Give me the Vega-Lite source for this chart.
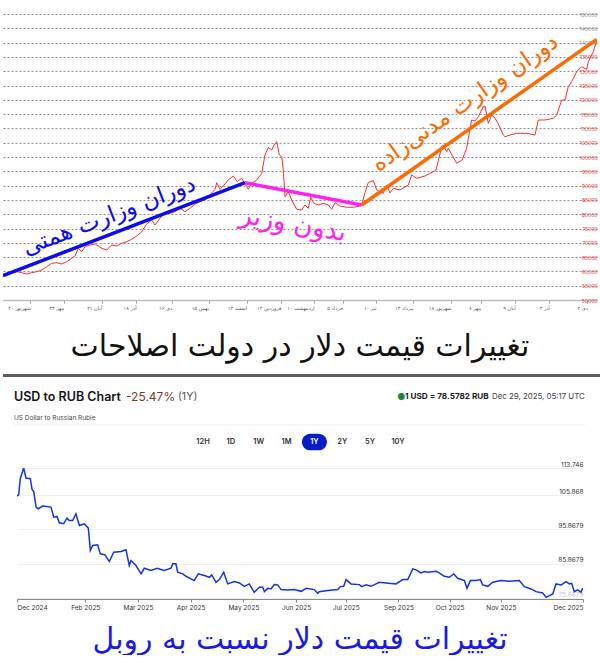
{
  "$schema": "https://vega.github.io/schema/vega-lite/v6.json",
  "background": "white",
  "padding": {"left": 3, "top": 12, "right": 0, "bottom": 0},
  "spacing": 0,
  "resolve": {"scale": {"color": "independent", "size": "independent"}},
  "config": {
    "view": {"stroke": null},
    "axis": {"labelFont": "Inter"},
    "text": {"font": "Inter"}
  },
  "datasets": {
    "dollar": [
      {"day": 0.3, "price": 58500}, {"day": 5.9, "price": 59550}, {"day": 11.5, "price": 59900}, {"day": 15.7, "price": 59550},
      {"day": 19.9, "price": 59090}, {"day": 24.2, "price": 59550}, {"day": 28.4, "price": 59900}, {"day": 32.6, "price": 60490},
      {"day": 36.8, "price": 61650}, {"day": 41, "price": 62830}, {"day": 45.2, "price": 63040}, {"day": 49.4, "price": 62590},
      {"day": 53.6, "price": 63390}, {"day": 57.8, "price": 64580}, {"day": 60.6, "price": 65390}, {"day": 63.4, "price": 68080},
      {"day": 66.2, "price": 66890}, {"day": 69, "price": 68640}, {"day": 73.2, "price": 69230}, {"day": 77.4, "price": 69580},
      {"day": 80.2, "price": 68880}, {"day": 83.1, "price": 68080}, {"day": 87.3, "price": 67480}, {"day": 91.5, "price": 69230},
      {"day": 95.7, "price": 68880}, {"day": 99.9, "price": 69830}, {"day": 104.1, "price": 70390}, {"day": 108.3, "price": 71230},
      {"day": 112.5, "price": 72380}, {"day": 116.8, "price": 73880}, {"day": 121, "price": 76580}, {"day": 125.2, "price": 77970},
      {"day": 127.9, "price": 76230}, {"day": 132.2, "price": 78570}, {"day": 136.4, "price": 80880}, {"day": 140.6, "price": 80320},
      {"day": 144.8, "price": 80880}, {"day": 149, "price": 82070}, {"day": 153.2, "price": 80880}, {"day": 157.4, "price": 82070},
      {"day": 161.6, "price": 83570}, {"day": 165.8, "price": 84370}, {"day": 170, "price": 84970}, {"day": 174.2, "price": 86720},
      {"day": 178.5, "price": 88710}, {"day": 179.9, "price": 91020}, {"day": 182.7, "price": 88710}, {"day": 185.4, "price": 89860},
      {"day": 189.6, "price": 91960}, {"day": 193.9, "price": 93360}, {"day": 197.2, "price": 91370}, {"day": 200.9, "price": 92560},
      {"day": 205.1, "price": 89690}, {"day": 206.5, "price": 88710}, {"day": 209.3, "price": 90810}, {"day": 213.6, "price": 91960},
      {"day": 217.8, "price": 94300}, {"day": 220.5, "price": 100700}, {"day": 223.3, "price": 103320}, {"day": 226.2, "price": 102450},
      {"day": 228.1, "price": 104200}, {"day": 230.4, "price": 105350}, {"day": 232.6, "price": 100700}, {"day": 234.6, "price": 100110},
      {"day": 235.9, "price": 95460}, {"day": 237.4, "price": 86120}, {"day": 240.2, "price": 87870}, {"day": 243, "price": 84970},
      {"day": 247.2, "price": 81720}, {"day": 251.4, "price": 81470}, {"day": 254.2, "price": 83220}, {"day": 257, "price": 82070},
      {"day": 259, "price": 85910}, {"day": 261.8, "price": 83810}, {"day": 265.4, "price": 83220}, {"day": 269.6, "price": 83810},
      {"day": 273.8, "price": 83220}, {"day": 276.7, "price": 81720}, {"day": 279.5, "price": 84020}, {"day": 283.7, "price": 82870},
      {"day": 289.3, "price": 82420}, {"day": 294.9, "price": 82420}, {"day": 300.5, "price": 82870}, {"day": 301.9, "price": 83220},
      {"day": 304.7, "price": 87520}, {"day": 307.5, "price": 91090}, {"day": 311.7, "price": 91720}, {"day": 314.6, "price": 88460},
      {"day": 317.3, "price": 87870}, {"day": 320.1, "price": 87310}, {"day": 323, "price": 90210}, {"day": 325.8, "price": 87420},
      {"day": 328.5, "price": 89060}, {"day": 334.2, "price": 88460}, {"day": 341.2, "price": 90210}, {"day": 344, "price": 93710},
      {"day": 348.2, "price": 92560}, {"day": 355.2, "price": 93360}, {"day": 359.4, "price": 94300}, {"day": 362.2, "price": 94860},
      {"day": 364.5, "price": 95460}, {"day": 369.3, "price": 103600}, {"day": 370.6, "price": 104200}, {"day": 373.5, "price": 101860},
      {"day": 374.8, "price": 103040}, {"day": 381.9, "price": 97800}, {"day": 386.4, "price": 98950}, {"day": 390.3, "price": 103040},
      {"day": 391.7, "price": 106540}, {"day": 394.5, "price": 112940}, {"day": 397.3, "price": 112590}, {"day": 400.1, "price": 114090},
      {"day": 404.3, "price": 117590}, {"day": 405.7, "price": 117840}, {"day": 408.5, "price": 111790}, {"day": 411.4, "price": 114690},
      {"day": 414.1, "price": 113640}, {"day": 416.9, "price": 111540}, {"day": 421.1, "price": 107690}, {"day": 422.6, "price": 107100},
      {"day": 426.8, "price": 107690}, {"day": 432.4, "price": 108290}, {"day": 435.2, "price": 108290}, {"day": 440.8, "price": 108290},
      {"day": 447.8, "price": 107690}, {"day": 450.6, "price": 112940}, {"day": 456.2, "price": 112940}, {"day": 463.2, "price": 113540},
      {"day": 466.1, "price": 114690}, {"day": 470.3, "price": 119930}, {"day": 473.1, "price": 119930}, {"day": 475.8, "price": 124580},
      {"day": 478.7, "price": 126330}, {"day": 482.9, "price": 129830}, {"day": 487.1, "price": 131580}, {"day": 491.3, "price": 130670},
      {"day": 492.7, "price": 133320}, {"day": 495.5, "price": 135670}, {"day": 496.9, "price": 136820}, {"day": 499.7, "price": 140910}
    ],
    "trends": [
      {"period": "hemmati", "day": 0, "price": 58500},
      {"period": "hemmati", "day": 203.7, "price": 91015},
      {"period": "vacant", "day": 203.7, "price": 91015},
      {"period": "vacant", "day": 301.9, "price": 83215},
      {"period": "madanizadeh", "day": 301.9, "price": 83215},
      {"period": "madanizadeh", "day": 499.7, "price": 141150}
    ],
    "notes": [
      {"period": "hemmati", "label": "دوران وزارت همتی", "day": 89.2, "price": 79370},
      {"period": "vacant", "label": "بدون وزیر", "day": 244.1, "price": 76570},
      {"period": "madanizadeh", "label": "دوران وزارت مدنی\u200cزاده", "day": 388.9, "price": 118880}
    ],
    "header": [
      {"part": "separator", "row": 0},
      {"part": "name", "text": "USD to RUB Chart", "row": 1, "slot": 0},
      {"part": "change", "text": "-25.47%", "row": 1, "slot": 1},
      {"part": "span", "text": "(1Y)", "row": 1, "slot": 2},
      {"part": "dot", "text": "●", "row": 1, "slot": 3},
      {"part": "quote", "text": "1 USD = 78.5782 RUB", "row": 1, "slot": 4},
      {"part": "time", "text": "Dec 29, 2025, 05:17 UTC", "row": 1, "slot": 5},
      {"part": "subtitle", "text": "US Dollar to Russian Ruble", "row": 2, "slot": 0},
      {"part": "divider", "row": 3, "slot": 0}
    ],
    "periods": [
      {"period": "12H", "selected": false}, {"period": "1D", "selected": false},
      {"period": "1W", "selected": false}, {"period": "1M", "selected": false},
      {"period": "1Y", "selected": true}, {"period": "2Y", "selected": false},
      {"period": "5Y", "selected": false}, {"period": "10Y", "selected": false}
    ],
    "rub": [
      {"day": 0, "rate": 105.58}, {"day": 1.1, "rate": 105.98}, {"day": 2.1, "rate": 110.65}, {"day": 4.3, "rate": 113.74},
      {"day": 5.8, "rate": 110.83}, {"day": 8.6, "rate": 110.65}, {"day": 9.7, "rate": 107.53}, {"day": 10.8, "rate": 106.94},
      {"day": 12.3, "rate": 102.37}, {"day": 13.7, "rate": 101.9}, {"day": 15.5, "rate": 102.37}, {"day": 16.6, "rate": 102.66},
      {"day": 21.9, "rate": 102.37}, {"day": 23.7, "rate": 99.46}, {"day": 25.8, "rate": 99.66}, {"day": 27.3, "rate": 97.82},
      {"day": 30.1, "rate": 97.53}, {"day": 32.2, "rate": 99.17}, {"day": 33.7, "rate": 98.49}, {"day": 35.9, "rate": 98.49},
      {"day": 38, "rate": 100.45}, {"day": 40.2, "rate": 97.04}, {"day": 43.4, "rate": 97.53}, {"day": 46, "rate": 96.25},
      {"day": 47.3, "rate": 89.75}, {"day": 48.8, "rate": 91.21}, {"day": 52, "rate": 91.41}, {"day": 53.7, "rate": 88.78},
      {"day": 56.8, "rate": 88.49}, {"day": 59.5, "rate": 86.54}, {"day": 62.4, "rate": 89.25}, {"day": 67.1, "rate": 89.45},
      {"day": 70.3, "rate": 89.95}, {"day": 72.4, "rate": 85.37}, {"day": 73.5, "rate": 86.83}, {"day": 76.7, "rate": 85.37},
      {"day": 80, "rate": 82.95}, {"day": 82.1, "rate": 84.59}, {"day": 86.4, "rate": 83.92}, {"day": 90.3, "rate": 84.59},
      {"day": 92.9, "rate": 84.21}, {"day": 95, "rate": 83.92}, {"day": 99.3, "rate": 84.59}, {"day": 100.4, "rate": 85.87},
      {"day": 102.5, "rate": 85.87}, {"day": 103.6, "rate": 83.42}, {"day": 106.9, "rate": 82.95}, {"day": 109, "rate": 82.26},
      {"day": 112.2, "rate": 81.5}, {"day": 114.3, "rate": 81}, {"day": 116.9, "rate": 82.95}, {"day": 120.8, "rate": 82.46},
      {"day": 124, "rate": 81.96}, {"day": 125.6, "rate": 82.66}, {"day": 128.3, "rate": 80.51}, {"day": 130.5, "rate": 81.29},
      {"day": 133.3, "rate": 83.42}, {"day": 135.9, "rate": 80.04}, {"day": 140.1, "rate": 80.71}, {"day": 143.4, "rate": 80.33},
      {"day": 146.6, "rate": 79.34}, {"day": 149.8, "rate": 80.04}, {"day": 153, "rate": 77.59}, {"day": 156.3, "rate": 79.05},
      {"day": 158.5, "rate": 79.05}, {"day": 159.5, "rate": 77.79}, {"day": 161.7, "rate": 78.75}, {"day": 163.8, "rate": 78.58},
      {"day": 165.9, "rate": 79.83}, {"day": 168.1, "rate": 79.75}, {"day": 170.3, "rate": 78.38}, {"day": 174.6, "rate": 78.29},
      {"day": 178.8, "rate": 78.38}, {"day": 183.2, "rate": 77.88}, {"day": 186.4, "rate": 78.75}, {"day": 191.7, "rate": 78.38},
      {"day": 193.9, "rate": 77.3}, {"day": 194.9, "rate": 77.79}, {"day": 200.4, "rate": 78.09}, {"day": 206.8, "rate": 78.38},
      {"day": 208.5, "rate": 79.25}, {"day": 210.7, "rate": 79.34}, {"day": 212.2, "rate": 81.29}, {"day": 215.4, "rate": 80.04},
      {"day": 220.8, "rate": 79.83}, {"day": 222.3, "rate": 79.25}, {"day": 225.1, "rate": 79.75}, {"day": 228.3, "rate": 79.34},
      {"day": 233.6, "rate": 80.51}, {"day": 238, "rate": 80.33}, {"day": 244.4, "rate": 80.04}, {"day": 248.7, "rate": 81.29},
      {"day": 252, "rate": 81.29}, {"day": 255.2, "rate": 84.41}, {"day": 257.3, "rate": 84.12}, {"day": 260.5, "rate": 83.24},
      {"day": 262.7, "rate": 83.62}, {"day": 264.9, "rate": 83.42}, {"day": 270.2, "rate": 83.71}, {"day": 272.3, "rate": 83.24},
      {"day": 275.6, "rate": 82.26}, {"day": 278.8, "rate": 81.96}, {"day": 281.6, "rate": 82.95}, {"day": 284.2, "rate": 81.67},
      {"day": 288.5, "rate": 81}, {"day": 290.2, "rate": 78.75}, {"day": 292.3, "rate": 81}, {"day": 296, "rate": 81},
      {"day": 298.8, "rate": 81.29}, {"day": 300.3, "rate": 79.75}, {"day": 303.6, "rate": 79.34}, {"day": 306.8, "rate": 80.51},
      {"day": 312.1, "rate": 81}, {"day": 317.5, "rate": 80.8}, {"day": 323.9, "rate": 81}, {"day": 327.2, "rate": 79.25},
      {"day": 331.5, "rate": 78.58}, {"day": 334.7, "rate": 77.79}, {"day": 339, "rate": 77.42}, {"day": 341.2, "rate": 76.13},
      {"day": 343.3, "rate": 76.63}, {"day": 345.5, "rate": 77.12}, {"day": 347.6, "rate": 80.04}, {"day": 350.9, "rate": 79.75},
      {"day": 354.1, "rate": 80.71}, {"day": 356.2, "rate": 80.04}, {"day": 357.7, "rate": 80.21}, {"day": 359.4, "rate": 77.79},
      {"day": 361.6, "rate": 78.29}, {"day": 363.7, "rate": 77.59}, {"day": 364.8, "rate": 78.87}
    ]
  },
  "vconcat": [
    {
      "width": 594,
      "height": 286,
      "title": {
        "text": "تغییرات قیمت دلار در دولت اصلاحات",
        "orient": "bottom",
        "anchor": "middle",
        "font": "DejaVu Sans",
        "fontSize": 30,
        "fontWeight": "normal",
        "color": "#111111",
        "offset": 22
      },
      "encoding": {
        "x": {
          "field": "day",
          "type": "quantitative",
          "scale": {"domain": [0, 500], "nice": false, "zero": false},
          "axis": {
            "title": null,
            "grid": false,
            "values": [23, 51, 83, 112, 142, 173, 205, 234, 262, 286, 314, 345, 377, 402, 431, 460, 492],
            "labelExpr": "['شهریور ۲۰','مهر ۲۳','آبان ۲۱','آذر ۱۸','دی ۱۶','بهمن ۱۵','اسفند ۱۳','فروردین ۱۲','اردیبهشت ۱۰','خرداد ۵','تیر ۱۰','مرداد ۱۳','شهریور ۱۸','مهر ۸','آبان ۹','آذر ۴','دی ۲'][indexof([23, 51, 83, 112, 142, 173, 205, 234, 262, 286, 314, 345, 377, 402, 431, 460, 492], datum.value)]",
            "labelFont": "DejaVu Sans",
            "labelFontSize": 5,
            "labelColor": "#555555",
            "labelAlign": "right",
            "labelPadding": 2,
            "labelOverlap": false,
            "domainColor": "#bdbdbd",
            "domainWidth": 1.5,
            "tickColor": "#999999",
            "tickSize": 3
          }
        },
        "y": {
          "field": "price",
          "type": "quantitative",
          "scale": {"domain": [50000, 150000], "nice": false, "zero": false},
          "axis": {
            "orient": "right",
            "title": null,
            "values": [50000, 55000, 60000, 65000, 70000, 75000, 80000, 85000, 90000, 95000, 100000, 105000, 110000, 115000, 120000, 125000, 130000, 135000, 140000, 145000, 150000],
            "format": "d",
            "grid": true,
            "gridColor": "#8c8c8c",
            "gridDash": [2, 2],
            "gridWidth": 1,
            "domain": false,
            "ticks": false,
            "tickSize": 0,
            "labelPadding": 0,
            "labelAlign": "right",
            "labelBaseline": "middle",
            "labelOverlap": false,
            "labelFontSize": 5,
            "labelColor": {"condition": {"test": "datum.value >= 140000", "value": "#8a8a8a"}, "value": "#e53935"}
          }
        }
      },
      "layer": [
        {
          "data": {"name": "dollar"},
          "mark": {"type": "line", "color": "#ff2b2b", "strokeWidth": 1, "clip": true}
        },
        {
          "data": {"name": "trends"},
          "mark": {"type": "line", "strokeWidth": 3.5, "clip": true},
          "encoding": {
            "color": {
              "field": "period",
              "type": "nominal",
              "scale": {"domain": ["hemmati", "vacant", "madanizadeh"], "range": ["#0a0af5", "#ff22ee", "#ff6a00"]},
              "legend": null
            }
          }
        },
        {
          "data": {"name": "notes"},
          "transform": [{"filter": "datum.period === 'hemmati'"}],
          "mark": {"type": "text", "angle": 339, "font": "DejaVu Sans", "fontSize": 23, "align": "center", "baseline": "middle", "clip": true},
          "encoding": {
            "text": {"field": "label"},
            "color": {"field": "period", "type": "nominal", "legend": null}
          }
        },
        {
          "data": {"name": "notes"},
          "transform": [{"filter": "datum.period === 'vacant'"}],
          "mark": {"type": "text", "angle": 10, "font": "DejaVu Sans", "fontSize": 26, "align": "center", "baseline": "middle", "clip": true},
          "encoding": {
            "text": {"field": "label"},
            "color": {"field": "period", "type": "nominal", "legend": null}
          }
        },
        {
          "data": {"name": "notes"},
          "transform": [{"filter": "datum.period === 'madanizadeh'"}],
          "mark": {"type": "text", "angle": 325, "font": "DejaVu Sans", "fontSize": 23, "align": "center", "baseline": "middle", "clip": true},
          "encoding": {
            "text": {"field": "label"},
            "color": {"field": "period", "type": "nominal", "legend": null}
          }
        }
      ]
    },
    {
      "width": 597,
      "height": 99,
      "data": {"name": "header"},
      "resolve": {"scale": {"x": "independent"}},
      "layer": [
        {
          "transform": [{"filter": "datum.part === 'separator'"}],
          "mark": {"type": "rule", "color": "#5e5e5e", "strokeWidth": 3, "clip": true},
          "encoding": {
            "y": {"field": "row", "type": "quantitative", "scale": {"domain": [0, 1, 2, 3, 4], "range": [13.5, 35, 56, 63, 80], "nice": false, "zero": false}, "axis": null}
          }
        },
        {
          "transform": [{"filter": "datum.part === 'divider'"}],
          "mark": {"type": "rule", "color": "#eeeeee", "strokeWidth": 1, "clip": true},
          "encoding": {
            "x": {"field": "slot", "type": "quantitative", "scale": {"domain": [0, 1, 2, 3, 4, 5, 6], "range": [11, 123, 175, 394, 402, 489, 582], "nice": false, "zero": false}, "axis": null},
            "x2": {"datum": 6},
            "y": {"field": "row", "type": "quantitative"}
          }
        },
        {
          "transform": [{"filter": "datum.part === 'name'"}],
          "mark": {"type": "text", "align": "left", "baseline": "middle", "fontSize": 12.5, "fontWeight": 600, "color": "#161616", "clip": true},
          "encoding": {
            "x": {"field": "slot", "type": "quantitative", "scale": {"domain": [0, 1, 2, 3, 4, 5, 6], "range": [11, 123, 175, 394, 402, 489, 582], "nice": false, "zero": false}, "axis": null},
            "y": {"field": "row", "type": "quantitative"},
            "text": {"field": "text"}
          }
        },
        {
          "transform": [{"filter": "datum.part === 'quote'"}],
          "mark": {"type": "text", "align": "left", "baseline": "middle", "fontSize": 8.2, "fontWeight": 700, "color": "#1a1a1a", "clip": true},
          "encoding": {
            "x": {"field": "slot", "type": "quantitative", "scale": {"domain": [0, 1, 2, 3, 4, 5, 6], "range": [11, 123, 175, 394, 402, 489, 582], "nice": false, "zero": false}, "axis": null},
            "y": {"field": "row", "type": "quantitative"},
            "text": {"field": "text"}
          }
        },
        {
          "transform": [{"filter": "indexof(['change', 'span', 'dot', 'time', 'subtitle'], datum.part) >= 0"}],
          "mark": {"type": "text", "align": "left", "baseline": "middle", "clip": true},
          "encoding": {
            "x": {"field": "slot", "type": "quantitative", "scale": {"domain": [0, 1, 2, 3, 4, 5, 6], "range": [11, 123, 175, 394, 402, 489, 582], "nice": false, "zero": false}, "axis": null},
            "y": {"field": "row", "type": "quantitative"},
            "text": {"field": "text"},
            "color": {
              "field": "part",
              "type": "nominal",
              "scale": {"domain": ["change", "span", "dot", "time", "subtitle"], "range": ["#7e3a26", "#555555", "#1b8a3a", "#444444", "#4a4a4a"]},
              "legend": null
            },
            "size": {
              "field": "part",
              "type": "nominal",
              "scale": {"domain": ["change", "span", "dot", "time", "subtitle"], "range": [12, 6.5, 7, 8.2, 5.6]},
              "legend": null
            }
          }
        },
        {
          "data": {"name": "periods"},
          "transform": [{"filter": "datum.selected"}],
          "mark": {
            "type": "point",
            "shape": "M -0.4 -0.8 L 0.4 -0.8 A 0.8 0.8 0 0 1 0.4 0.8 L -0.4 0.8 A 0.8 0.8 0 0 1 -0.4 -0.8 Z",
            "filled": true,
            "color": "#0a1cc7",
            "opacity": 1,
            "size": 434,
            "clip": true
          },
          "encoding": {
            "x": {"field": "period", "type": "nominal", "sort": null, "scale": {"type": "point", "domain": ["12H", "1D", "1W", "1M", "1Y", "2Y", "5Y", "10Y"], "range": [200, 395], "padding": 0}, "axis": null},
            "y": {"datum": 4, "type": "quantitative"}
          }
        },
        {
          "data": {"name": "periods"},
          "mark": {"type": "text", "align": "center", "baseline": "middle", "fontSize": 7.5, "fontWeight": 600, "clip": true},
          "encoding": {
            "x": {"field": "period", "type": "nominal", "sort": null, "scale": {"type": "point", "domain": ["12H", "1D", "1W", "1M", "1Y", "2Y", "5Y", "10Y"], "range": [200, 395], "padding": 0}, "axis": null},
            "y": {"datum": 4, "type": "quantitative"},
            "text": {"field": "period"},
            "color": {"condition": {"test": "datum.selected", "value": "#ffffff"}, "value": "#333333"}
          }
        }
      ]
    },
    {
      "spacing": 12,
      "hconcat": [
        {
          "width": 1,
          "height": 131,
          "data": {"values": [{}]},
          "mark": {"type": "text", "text": "", "clip": true}
        },
        {
          "width": 566,
          "height": 131,
          "data": {"name": "rub"},
          "title": {
            "text": "تغییرات قیمت دلار نسبت به روبل",
            "orient": "bottom",
            "anchor": "middle",
            "font": "DejaVu Sans",
            "fontSize": 30,
            "fontWeight": "normal",
            "color": "#1a1ae6",
            "offset": 14
          },
          "mark": {"type": "line", "color": "#1533e6", "strokeWidth": 1.5, "clip": true},
          "encoding": {
            "x": {
              "field": "day",
              "type": "quantitative",
              "scale": {"domain": [0, 365], "nice": false, "zero": false},
              "axis": {
                "title": null,
                "grid": false,
                "values": [0, 44, 78, 112, 146, 180, 212, 246, 279, 312, 365],
                "labelExpr": "['Dec 2024','Feb 2025','Mar 2025','Apr 2025','May 2025','Jun 2025','Jul 2025','Sep 2025','Oct 2025','Nov 2025','Dec 2025'][indexof([0, 44, 78, 112, 146, 180, 212, 246, 279, 312, 365], datum.value)]",
                "labelFlush": true,
                "labelFontSize": 6.5,
                "labelColor": "#333333",
                "labelPadding": 2,
                "domainColor": "#8a8a8a",
                "tickColor": "#8a8a8a",
                "tickSize": 3
              }
            },
            "y": {
              "field": "rate",
              "type": "quantitative",
              "scale": {"domain": [75.65, 113.746], "nice": false, "zero": false},
              "axis": {
                "orient": "right",
                "title": null,
                "values": [75.8679, 85.8679, 95.8679, 105.868, 113.746],
                "format": ".6",
                "grid": true,
                "gridColor": "#efefef",
                "domain": false,
                "ticks": false,
                "tickSize": 0,
                "labelPadding": 0,
                "labelAlign": "right",
                "labelBaseline": "bottom",
                "labelOffset": -1,
                "labelFontSize": 6.5,
                "labelColor": {"condition": {"test": "datum.value < 80", "value": "#c4c4c4"}, "value": "#333333"}
              }
            }
          }
        }
      ]
    }
  ]
}
